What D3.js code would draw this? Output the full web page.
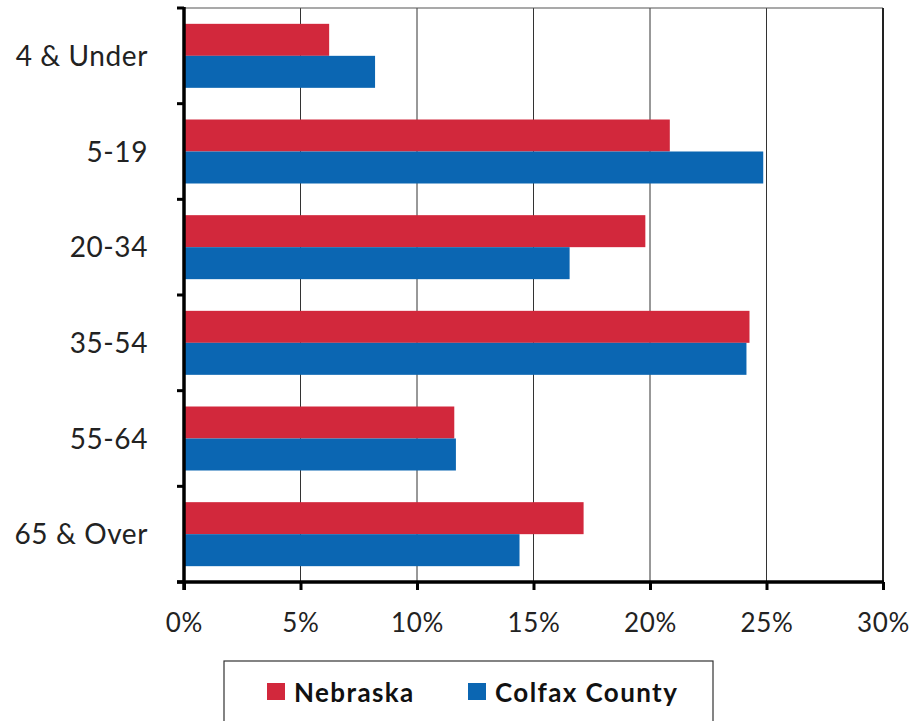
<!DOCTYPE html>
<html><head><meta charset="utf-8">
<script src="https://cdn.jsdelivr.net/npm/d3@7"></script>
<style>body{margin:0;background:#fff}svg{display:block}text{font-family:Lato,"Open Sans",sans-serif}</style>
</head><body><svg id="c" width="910" height="721"></svg>
<script>
const categories = ["4 & Under","5-19","20-34","35-54","55-64","65 & Over"];
const seriesNames = ["Nebraska","Colfax County"];
const nebraska = [6.23,20.85,19.8,24.27,11.6,17.15];
const colfax = [8.2,24.86,16.55,24.14,11.67,14.4];
const xTicks = [0,5,10,15,20,25,30];
const colors = ["#D2283C","#0B66B2"];

const svg = d3.select("#c");
const L=184, R=883, T=8, B=582;
const x = d3.scaleLinear().domain([0,30]).range([L,R]);
const y = d3.scaleBand().domain(categories).range([T,B]);
const bandH = y.bandwidth();
const barH = 32;
// grid
svg.append("g").selectAll("line").data(xTicks.filter(d=>d>0&&d<30)).join("line")
 .attr("x1",d=>x(d)).attr("x2",d=>x(d)).attr("y1",T).attr("y2",B).attr("stroke","#333").attr("stroke-width",1);
svg.append("line").attr("x1",L).attr("x2",R).attr("y1",T).attr("y2",T).attr("stroke","#555").attr("stroke-width",1.2);
svg.append("line").attr("x1",R).attr("x2",R).attr("y1",T).attr("y2",B).attr("stroke","#222").attr("stroke-width",2);
// bars
const data = categories.map((c,i)=>({c, vals:[nebraska[i],colfax[i]]}));
const g = svg.append("g");
data.forEach(d=>{
  d.vals.forEach((v,j)=>{
    g.append("rect").attr("x",x(0)).attr("width",x(v)-x(0))
     .attr("y",y(d.c)+bandH/2-barH+j*barH).attr("height",barH).attr("fill",colors[j]);
  });
});
// x axis
const xa = svg.append("g").attr("transform",`translate(0,${B})`)
 .call(d3.axisBottom(x).tickValues(xTicks).tickFormat(d=>d+"%").tickSize(8));
xa.select(".domain").attr("stroke","#000").attr("stroke-width",3.5).attr("d",`M${L-7},0H${R+1}`);
xa.selectAll(".tick line").attr("stroke","#000").attr("stroke-width",3);
xa.selectAll(".tick text").attr("y",50).attr("dy",null).attr("font-size",26)
  .attr("letter-spacing","0.7px").attr("fill","#222").attr("font-family","Lato");
// y axis
const boundaries = d3.range(7).map(i=>T+i*bandH);
svg.append("line").attr("x1",L).attr("x2",L).attr("y1",T-1).attr("y2",B+8).attr("stroke","#000").attr("stroke-width",3.5);
svg.append("g").selectAll("line").data(boundaries).join("line")
 .attr("x1",L-7).attr("x2",L).attr("y1",d=>d).attr("y2",d=>d).attr("stroke","#000").attr("stroke-width",3);
svg.append("g").selectAll("text").data(categories).join("text")
 .attr("x",148).attr("y",d=>y(d)+bandH/2+10).attr("text-anchor","end")
 .attr("font-size",28).attr("letter-spacing","0.6px").attr("fill","#222").text(d=>d);
// legend
svg.append("rect").attr("x",224).attr("y",661).attr("width",489).attr("height",80).attr("fill","none").attr("stroke","#333").attr("stroke-width",1.2);
const lx=[267,468];
seriesNames.forEach((n,j)=>{
  svg.append("rect").attr("x",lx[j]).attr("y",683).attr("width",18).attr("height",17).attr("fill",colors[j]);
  svg.append("text").attr("x",lx[j]+27).attr("y",702).attr("font-size",26).attr("font-weight","bold")
   .attr("letter-spacing","1.4px").attr("fill","#111").text(n);
});
</script></body></html>
